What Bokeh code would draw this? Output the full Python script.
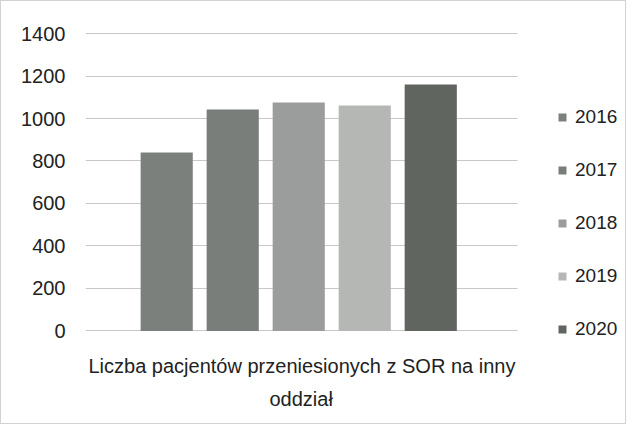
from bokeh.plotting import figure
from bokeh.models import ColumnDataSource, Range1d, FixedTicker, Legend, LegendItem, Title
from bokeh.embed import file_html
from bokeh.resources import INLINE

# ---- data ----
years = [2016, 2017, 2018, 2019, 2020]
year_labels = ["2016", "2017", "2018", "2019", "2020"]
patients = [840, 1042, 1075, 1061, 1160]
colors = ["#7b807d", "#797e7a", "#9a9d9b", "#b5b7b5", "#60655f"]
y_ticks = [0, 200, 400, 600, 800, 1000, 1200, 1400]
title_lines = ["Liczba pacjentów przeniesionych z SOR na inny", "oddział"]

source = ColumnDataSource(dict(x=years, top=patients, color=colors, label=year_labels))

plot_x0, plot_x1 = 2014.77, 2021.32   # extent of the plotting area (grid)
p = figure(width=626, height=424, output_backend="svg", toolbar_location=None,
           x_range=Range1d(plot_x0, 2022.95), y_range=Range1d(-50, 1405),
           min_border_left=84, min_border_right=2, min_border_top=31, min_border_bottom=84)
p.styles = {"border": "1px solid #d2d2d2"}
p.outline_line_color = None
p.background_fill_color = "white"
p.border_fill_color = "white"

r = p.vbar(x="x", top="top", bottom=0, width=0.79, fill_color="color", line_color=None,
           source=source)

# axes
p.yaxis.ticker = FixedTicker(ticks=y_ticks)
p.yaxis.axis_line_color = None
p.yaxis.major_tick_line_color = None
p.yaxis.minor_tick_line_color = None
p.yaxis.major_label_standoff = 14
p.yaxis.major_label_text_font = "Liberation Sans"
p.yaxis.major_label_text_font_size = "20px"
p.yaxis.major_label_text_color = "#222222"

p.xaxis.visible = False

p.xgrid.grid_line_color = None
p.ygrid.grid_line_color = "#c8c8c8"
p.ygrid.grid_line_width = 1
try:
    p.ygrid.cross_bounds = (plot_x0, plot_x1)
except Exception:
    pass

# category title under the bars (two lines, centred under the plotting area)
t1 = Title(text=title_lines[0], align="left", offset=3, standoff=22,
           text_font="Liberation Sans", text_font_size="20px", text_font_style="normal",
           text_color="#222222")
t2 = Title(text=title_lines[1], align="left", offset=184, standoff=0, vertical_align="top",
           text_font="Liberation Sans", text_font_size="20px", text_font_style="normal",
           text_color="#222222")
p.add_layout(t1, "below")
p.add_layout(t2, "below")

legend = Legend(items=[LegendItem(label=year_labels[i], renderers=[r], index=i) for i in range(len(years))],
                location=(472, 1), orientation="vertical")
legend.glyph_width = 10
legend.glyph_height = 10
legend.label_height = 20
legend.spacing = 31
legend.label_standoff = 8
legend.padding = 0
legend.margin = 0
legend.border_line_color = None
legend.background_fill_alpha = 0
legend.label_text_font = "Liberation Sans"
legend.label_text_font_size = "19px"
legend.label_text_color = "#222222"
p.add_layout(legend, "center")

open("out.html", "w").write(file_html(p, INLINE))
